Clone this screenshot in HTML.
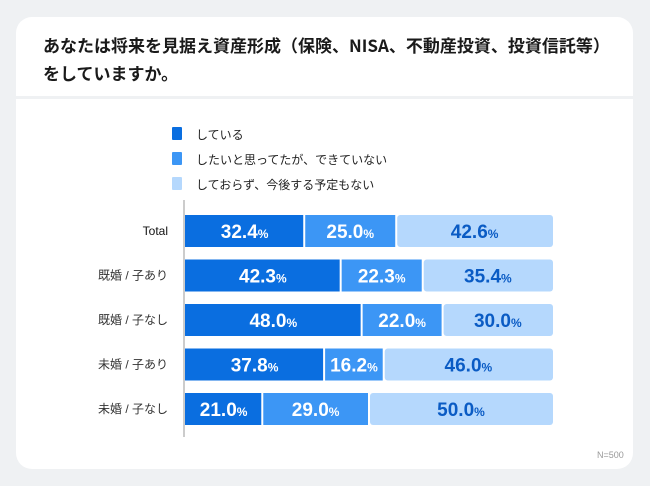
<!DOCTYPE html>
<html><head><meta charset="utf-8"><style>
body{margin:0;width:650px;height:486px;background:#eff1f3;font-family:"Liberation Sans","Noto Sans CJK JP",sans-serif;position:relative;overflow:hidden}
#card{position:absolute;left:16px;top:17px;width:617px;height:452px;background:#fff;border-radius:16px}
#sep{position:absolute;left:16px;top:96px;width:617px;height:3px;background:#eff1f3}
#title{position:absolute;left:43px;top:31px;font-size:17px;font-weight:bold;line-height:28px;color:#1a1a1a;font-family:"Noto Sans CJK JP",sans-serif}
.lg{position:absolute;left:172px;width:10px;height:13px;border-radius:1px}
.lt{position:absolute;left:196px;font-size:12px;color:#222;font-family:"Noto Sans CJK JP",sans-serif}
#n{position:absolute;left:597px;top:450px;font-size:9px;color:#999}
</style></head><body>
<div id="card"></div>
<div id="sep"></div>
<div id="title">あなたは将来を見据え資産形成（保険、NISA、不動産投資、投資信託等）<br>をしていますか。</div>
<div class="lg" style="top:127px;background:#0a6ee0"></div>
<div class="lt" style="top:126px">している</div>
<div class="lg" style="top:152px;background:#3c96f5"></div>
<div class="lt" style="top:151px">したいと思ってたが、できていない</div>
<div class="lg" style="top:177px;background:#b5d8fd"></div>
<div class="lt" style="top:176px">しておらず、今後する予定もない</div>
<svg id="chart" width="650" height="486" style="position:absolute;left:0;top:0"></svg>
<div id="n">N=500</div>
<script>
const categories=["Total","既婚 / 子あり","既婚 / 子なし","未婚 / 子あり","未婚 / 子なし"];
const doing=[32.4,42.3,48.0,37.8,21.0];
const wanted=[25.0,22.3,22.0,16.2,29.0];
const none=[42.6,35.4,30.0,46.0,50.0];
const svg=document.getElementById('chart');
const NS='http://www.w3.org/2000/svg';
const x0=185,W=368,y0=215,step=44.5,bh=32;
const xs=v=>x0+v/100*W;
const ys=i=>y0+i*step;
const series=[[doing,'#0a6ee0','#fff','doing'],[wanted,'#3c96f5','#fff','wanted'],[none,'#b5d8fd','#0a5bc4','none']];
const ax=document.createElementNS(NS,'line');
ax.setAttribute('x1',184);ax.setAttribute('x2',184);ax.setAttribute('y1',200);ax.setAttribute('y2',437);
ax.setAttribute('stroke','#bbb');ax.setAttribute('stroke-width','1.5');


svg.appendChild(ax);
categories.forEach((c,i)=>{
  const t=document.createElementNS(NS,'text');
  t.setAttribute('x',168);t.setAttribute('y',ys(i)+bh/2+4);t.setAttribute('text-anchor','end');
  t.setAttribute('font-size','12');t.setAttribute('fill','#333');
  t.setAttribute('font-family','"Liberation Sans","Noto Sans CJK JP",sans-serif');
  if(i===0)t.setAttribute('fill','#111');
  t.textContent=c;
  
  
  svg.appendChild(t);
  let acc=0;
  series.forEach(([arr,col,tc,nm],k)=>{
    const v=arr[i];
    const a=xs(acc),b=xs(acc+v);
    const r=document.createElementNS(NS,'rect');
    r.setAttribute('x',a+(k?1:0));r.setAttribute('y',ys(i));
    r.setAttribute('width',b-a-(k?1:0)-(k<2?1:0));r.setAttribute('height',bh);
    r.setAttribute('fill',col);
    if(k===2){r.setAttribute('rx',3);}
    
    
    svg.appendChild(r);
    const t2=document.createElementNS(NS,'text');
    t2.setAttribute('x',(a+b)/2);t2.setAttribute('y',ys(i)+bh/2+7);t2.setAttribute('text-anchor','middle');
    t2.setAttribute('fill',tc);t2.setAttribute('font-weight','bold');t2.setAttribute('font-size','19');
    t2.setAttribute('font-family','"Liberation Sans",sans-serif');
    t2.innerHTML=v.toFixed(1)+'<tspan font-size="12">%</tspan>';
    
    
    svg.appendChild(t2);
    acc+=v;
  });
});
</script>
</body></html>
